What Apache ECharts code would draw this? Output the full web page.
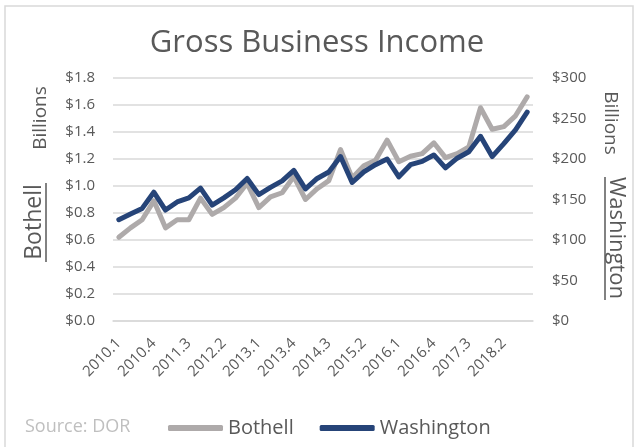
<!DOCTYPE html>
<html>
<head>
<meta charset="utf-8">
<script src="https://cdn.jsdelivr.net/npm/echarts@6/dist/echarts.min.js"></script>
<style>
  html, body { margin: 0; padding: 0; background: #fff; }
  #chart { width: 634px; height: 447px; }
</style>
</head>
<body>
<div id="chart"></div>
<script>
// quarters, 2010.1 - 2018.4
var quarters = [
    '2010.1','2010.2','2010.3','2010.4','2011.1','2011.2','2011.3','2011.4',
    '2012.1','2012.2','2012.3','2012.4','2013.1','2013.2','2013.3','2013.4',
    '2014.1','2014.2','2014.3','2014.4','2015.1','2015.2','2015.3','2015.4',
    '2016.1','2016.2','2016.3','2016.4','2017.1','2017.2','2017.3','2017.4',
    '2018.1','2018.2','2018.3','2018.4'
];
// Bothell, $ billions (left axis)
var bothell = [
    0.62, 0.69, 0.75, 0.89, 0.69, 0.75, 0.75, 0.91,
    0.79, 0.84, 0.91, 1.02, 0.84, 0.92, 0.95, 1.07,
    0.90, 0.98, 1.04, 1.27, 1.06, 1.15, 1.19, 1.34,
    1.18, 1.22, 1.24, 1.32, 1.21, 1.24, 1.29, 1.58,
    1.42, 1.44, 1.52, 1.66
];
// Washington, $ billions (right axis)
var washington = [
    125, 132, 139, 159, 137, 147, 152, 164,
    143, 152, 162, 176, 156, 165, 173, 186,
    163, 176, 184, 203, 171, 184, 193, 200,
    178, 193, 197, 205, 189, 201, 209, 228,
    203, 219, 236, 258
];

var FONT = '"Open Sans", "Noto Sans", sans-serif';
var txt = '#595959';
var gridColor = '#d9d9d9';

var chart = echarts.init(document.getElementById('chart'));
var option = {
    backgroundColor: '#fff',
    textStyle: { fontFamily: FONT },
    title: {
        text: 'Gross Business Income',
        left: 'center',
        top: 23,
        textStyle: { fontFamily: FONT, fontSize: 31, fontWeight: 'normal', color: txt }
    },
    grid: { left: 113, right: 101, top: 78, bottom: 126 },
    legend: {
        left: 163,
        top: 413,
        itemWidth: 55,
        itemHeight: 6,
        itemGap: 26,
        icon: 'roundRect',
        textStyle: { fontFamily: FONT, fontSize: 20, color: txt, padding: [0, 0, 0, 0] },
        data: ['Bothell', 'Washington']
    },
    xAxis: {
        type: 'category',
        data: quarters,
        boundaryGap: true,
        axisTick: { show: false },
        axisLine: { lineStyle: { color: gridColor, width: 1.5 } },
        axisLabel: {
            interval: 2,
            rotate: 45,
            margin: 20,
            fontSize: 15,
            color: txt,
            fontFamily: FONT
        }
    },
    yAxis: [
        {
            type: 'value',
            min: 0,
            max: 1.8,
            interval: 0.2,
            axisLine: { show: false },
            axisTick: { show: false },
            splitLine: { lineStyle: { color: gridColor, width: 1.5 } },
            axisLabel: {
                margin: 18,
                fontSize: 15,
                color: txt,
                fontFamily: FONT,
                formatter: function (v) { return '$' + v.toFixed(1); }
            }
        },
        {
            type: 'value',
            min: 0,
            max: 300,
            interval: 50,
            axisLine: { show: false },
            axisTick: { show: false },
            splitLine: { show: false },
            axisLabel: {
                margin: 19,
                fontSize: 15,
                color: txt,
                fontFamily: FONT,
                formatter: function (v) { return '$' + v; }
            }
        }
    ],
    series: [
        {
            name: 'Bothell',
            type: 'line',
            yAxisIndex: 0,
            data: bothell,
            symbol: 'none',
            color: '#AEAAAA',
            lineStyle: { width: 5, color: '#AEAAAA', cap: 'round', join: 'round' }
        },
        {
            name: 'Washington',
            type: 'line',
            yAxisIndex: 1,
            data: washington,
            symbol: 'none',
            color: '#264478',
            lineStyle: { width: 5, color: '#264478', cap: 'round', join: 'round' }
        }
    ],
    graphic: [
        {
            type: 'rect',
            shape: { x: 5, y: 6, width: 628, height: 470 },
            style: { fill: 'none', stroke: gridColor, lineWidth: 1.5 },
            silent: true
        },
        {
            type: 'text', x: 41, y: 118, rotation: Math.PI / 2,
            style: { text: 'Billions', font: '19px ' + FONT, fill: txt, align: 'center', verticalAlign: 'middle' }
        },
        {
            type: 'text', x: 34, y: 222, rotation: Math.PI / 2,
            style: { text: 'Bothell', font: '23px ' + FONT, fill: txt, align: 'center', verticalAlign: 'middle' }
        },
        {
            type: 'line',
            shape: { x1: 46, y1: 183, x2: 46, y2: 262 },
            style: { stroke: txt, lineWidth: 1.5 }
        },
        {
            type: 'text', x: 610, y: 123, rotation: -Math.PI / 2,
            style: { text: 'Billions', font: '19px ' + FONT, fill: txt, align: 'center', verticalAlign: 'middle' }
        },
        {
            type: 'text', x: 616, y: 238, rotation: -Math.PI / 2,
            style: { text: 'Washington', font: '22px ' + FONT, fill: txt, align: 'center', verticalAlign: 'middle' }
        },
        {
            type: 'line',
            shape: { x1: 605, y1: 177, x2: 605, y2: 300 },
            style: { stroke: txt, lineWidth: 1.5 }
        },
        {
            type: 'text', x: 25, y: 427,
            style: { text: 'Source: DOR', font: '18px ' + FONT, fill: '#bfbfbf', align: 'left', verticalAlign: 'middle' }
        }
    ]
};
chart.setOption(option);
</script>
</body>
</html>
